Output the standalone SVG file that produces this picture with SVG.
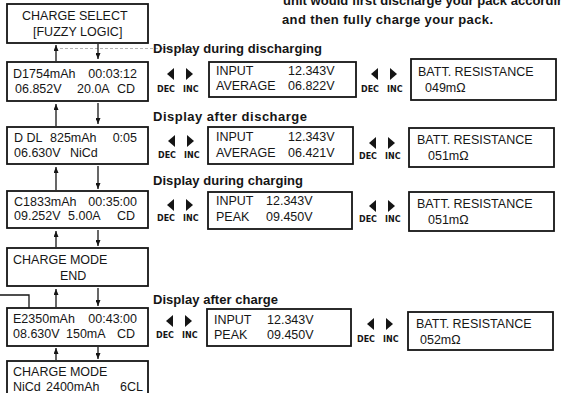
<svg xmlns="http://www.w3.org/2000/svg" width="561" height="393" viewBox="0 0 561 393">
<style>
.box{fill:#fff;stroke:#151515;stroke-width:1.8}
.lcd{font-family:"Liberation Sans",Arial,sans-serif;font-size:12.5px;fill:#161616}
.lbl{font-family:"Liberation Sans",Arial,sans-serif;font-weight:bold;font-size:13px;fill:#151515}
.key{font-family:"DejaVu Sans",sans-serif;font-weight:bold;font-size:8px;fill:#151515}
.con{stroke:#151515;stroke-width:1.3;fill:none}
.tri{fill:#151515}
</style>
<defs>
<marker id="ah" viewBox="0 0 10 10" refX="10" refY="5" markerWidth="6" markerHeight="5" markerUnits="userSpaceOnUse" orient="auto" preserveAspectRatio="none"><path d="M0,0 L10,5 L0,10 z" fill="#151515"/></marker>
<path id="tl" d="M17,0 L10,6 L17,12 z"/>
<path id="tr" d="M29,0 L36,6 L29,12 z"/>
</defs>
<rect width="561" height="393" fill="#fff"/>

<g id="intro">
<text class="lbl" x="283" y="5" textLength="282">unit would first discharge your pack accordin</text>
<text class="lbl" x="282" y="24" textLength="211">and then fully charge your pack.</text>
</g>

<line x1="60" y1="48.5" x2="196" y2="48.5" stroke="#b5b5b5" stroke-width="1" stroke-dasharray="3 2"/>

<g id="labels">
<text class="lbl" x="153" y="53" textLength="169">Display during discharging</text>
<text class="lbl" x="153" y="121" textLength="154">Display after discharge</text>
<text class="lbl" x="153" y="185" textLength="150">Display during charging</text>
<text class="lbl" x="153" y="304" textLength="125">Display after charge</text>
</g>

<g id="charge-select">
<rect class="box" x="7" y="4" width="141" height="39"/>
<text class="lcd" x="22" y="20">CHARGE SELECT</text>
<text class="lcd" x="33" y="36">[FUZZY LOGIC]</text>
</g>

<g id="discharging">
<rect class="box" x="7" y="62" width="141" height="39"/>
<text class="lcd" x="13" y="78">D1754mAh</text>
<text class="lcd" x="137" y="78" text-anchor="end">00:03:12</text>
<text class="lcd" x="15" y="93">06.852V</text>
<text class="lcd" x="77" y="93">20.0A</text>
<text class="lcd" x="135" y="93" text-anchor="end">CD</text>
</g>
<g id="discharging-input">
<rect class="box" x="209" y="62" width="147" height="35"/>
<text class="lcd" x="216" y="75">INPUT</text>
<text class="lcd" x="288" y="75">12.343V</text>
<text class="lcd" x="216" y="90">AVERAGE</text>
<text class="lcd" x="288" y="90">06.822V</text>
</g>
<g id="discharging-resistance">
<rect class="box" x="411" y="59" width="145" height="41"/>
<text class="lcd" x="418" y="76">BATT. RESISTANCE</text>
<text class="lcd" x="425" y="92">049mΩ</text>
</g>

<g id="after-discharge">
<rect class="box" x="7" y="127" width="141" height="37"/>
<text class="lcd" x="14" y="142">D DL</text>
<text class="lcd" x="50" y="142">825mAh</text>
<text class="lcd" x="137" y="142" text-anchor="end">0:05</text>
<text class="lcd" x="14" y="157">06.630V</text>
<text class="lcd" x="70" y="157">NiCd</text>
</g>
<g id="after-discharge-input">
<rect class="box" x="208" y="127" width="145" height="37"/>
<text class="lcd" x="216" y="141">INPUT</text>
<text class="lcd" x="288" y="141">12.343V</text>
<text class="lcd" x="216" y="157">AVERAGE</text>
<text class="lcd" x="288" y="157">06.421V</text>
</g>
<g id="after-discharge-resistance">
<rect class="box" x="409" y="128" width="145" height="39"/>
<text class="lcd" x="417" y="144">BATT. RESISTANCE</text>
<text class="lcd" x="428" y="160">051mΩ</text>
</g>

<g id="charging">
<rect class="box" x="7" y="191" width="141" height="37"/>
<text class="lcd" x="14" y="206">C1833mAh</text>
<text class="lcd" x="137" y="206" text-anchor="end">00:35:00</text>
<text class="lcd" x="14" y="220">09.252V</text>
<text class="lcd" x="68" y="220">5.00A</text>
<text class="lcd" x="135" y="220" text-anchor="end">CD</text>
</g>
<g id="charging-input">
<rect class="box" x="208" y="192" width="144" height="37"/>
<text class="lcd" x="216" y="205">INPUT</text>
<text class="lcd" x="266" y="205">12.343V</text>
<text class="lcd" x="216" y="221">PEAK</text>
<text class="lcd" x="266" y="221">09.450V</text>
</g>
<g id="charging-resistance">
<rect class="box" x="409" y="192" width="145" height="39"/>
<text class="lcd" x="417" y="208">BATT. RESISTANCE</text>
<text class="lcd" x="428" y="224">051mΩ</text>
</g>

<g id="charge-end">
<rect class="box" x="7" y="248" width="141" height="38"/>
<text class="lcd" x="13" y="264">CHARGE MODE</text>
<text class="lcd" x="60" y="280">END</text>
</g>

<g id="after-charge">
<rect class="box" x="7" y="308" width="141" height="38"/>
<text class="lcd" x="13" y="323">E2350mAh</text>
<text class="lcd" x="137" y="323" text-anchor="end">00:43:00</text>
<text class="lcd" x="13" y="338">08.630V</text>
<text class="lcd" x="66" y="338">150mA</text>
<text class="lcd" x="135" y="338" text-anchor="end">CD</text>
</g>
<g id="after-charge-input">
<rect class="box" x="207" y="309" width="144" height="37"/>
<text class="lcd" x="214" y="324">INPUT</text>
<text class="lcd" x="267" y="324">12.343V</text>
<text class="lcd" x="214" y="339">PEAK</text>
<text class="lcd" x="267" y="339">09.450V</text>
</g>
<g id="after-charge-resistance">
<rect class="box" x="408" y="312" width="145" height="38"/>
<text class="lcd" x="416" y="328">BATT. RESISTANCE</text>
<text class="lcd" x="420" y="344">052mΩ</text>
</g>

<g id="charge-mode">
<rect class="box" x="7" y="361" width="141" height="40"/>
<text class="lcd" x="13" y="376">CHARGE MODE</text>
<text class="lcd" x="13" y="391">NiCd</text>
<text class="lcd" x="46" y="391">2400mAh</text>
<text class="lcd" x="143" y="391" text-anchor="end">6CL</text>
</g>

<g id="keys">
<g transform="translate(157,68)"><use href="#tl" class="tri"/><use href="#tr" class="tri"/><text class="key" x="0" y="24">DEC</text><text class="key" x="26" y="24">INC</text></g>
<g transform="translate(361,68)"><use href="#tl" class="tri"/><use href="#tr" class="tri"/><text class="key" x="0" y="24">DEC</text><text class="key" x="26" y="24">INC</text></g>
<g transform="translate(158,135)"><use href="#tl" class="tri"/><use href="#tr" class="tri"/><text class="key" x="0" y="23">DEC</text><text class="key" x="26" y="23">INC</text></g>
<g transform="translate(359,137)"><use href="#tl" class="tri"/><use href="#tr" class="tri"/><text class="key" x="0" y="22">DEC</text><text class="key" x="26" y="22">INC</text></g>
<g transform="translate(157,199)"><use href="#tl" class="tri"/><use href="#tr" class="tri"/><text class="key" x="0" y="22">DEC</text><text class="key" x="26" y="22">INC</text></g>
<g transform="translate(359,200)"><use href="#tl" class="tri"/><use href="#tr" class="tri"/><text class="key" x="0" y="22">DEC</text><text class="key" x="26" y="22">INC</text></g>
<g transform="translate(156,315)"><use href="#tl" class="tri"/><use href="#tr" class="tri"/><text class="key" x="0" y="23">DEC</text><text class="key" x="26" y="23">INC</text></g>
<g transform="translate(357,318)"><use href="#tl" class="tri"/><use href="#tr" class="tri"/><text class="key" x="0" y="24">DEC</text><text class="key" x="26" y="24">INC</text></g>
</g>

<g id="connectors" class="con">
<line x1="56" y1="61" x2="56" y2="45" marker-end="url(#ah)"/>
<line x1="98" y1="44" x2="98" y2="59" marker-end="url(#ah)"/>
<line x1="56" y1="126" x2="56" y2="104" marker-end="url(#ah)"/>
<line x1="98" y1="103" x2="98" y2="124" marker-end="url(#ah)"/>
<line x1="56" y1="190" x2="56" y2="167" marker-end="url(#ah)"/>
<line x1="98" y1="166" x2="98" y2="189" marker-end="url(#ah)"/>
<line x1="56" y1="247" x2="56" y2="231" marker-end="url(#ah)"/>
<line x1="98" y1="230" x2="98" y2="246" marker-end="url(#ah)"/>
<line x1="56" y1="307" x2="56" y2="289" marker-end="url(#ah)"/>
<line x1="98" y1="288" x2="98" y2="306" marker-end="url(#ah)"/>
<line x1="56" y1="360" x2="56" y2="348" marker-end="url(#ah)"/>
<line x1="98" y1="347" x2="98" y2="359" marker-end="url(#ah)"/>
<polyline points="0,295 29,295 29,308"/>
</g>
</svg>
